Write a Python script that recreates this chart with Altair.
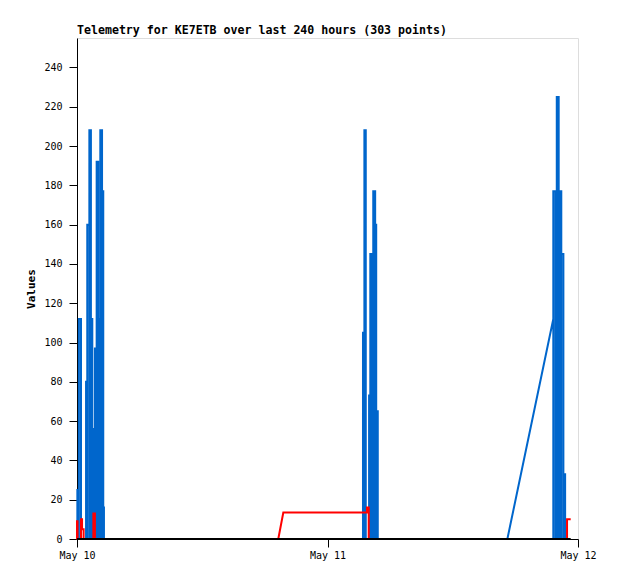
import altair as alt
import pandas as pd

# ---- data (minutes after May 10 00:00) ----
# blue channel: spikes as (start minute, end minute, value)
blue_start = [2, 11, 52, 59, 71, 80, 88, 103, 113, 122, 128, 134, 144, 151,
              1644, 1652, 1679, 1686, 1694, 1703, 1714, 1720,
              2738, 2750, 2758, 2769, 2777, 2784, 2796]
blue_end = [11, 23, 59, 71, 80, 88, 94, 113, 122, 128, 134, 144, 151, 155,
            1652, 1660, 1686, 1694, 1703, 1714, 1720, 1729,
            2750, 2758, 2769, 2777, 2784, 2796, 2806]
blue_value = [25, 112, 80, 160, 208, 112, 56, 97, 192, 97, 112, 208, 177, 16,
              105, 208, 73, 145, 65, 177, 160, 65,
              177, 80, 225, 97, 177, 145, 33]
# blue ramp between the middle and right clusters
ramp_min = [2474, 2738]
ramp_val = [0, 112]

# red channel
red_min = [0, 0, 3, 3, 23, 23, 29, 29, 38, 38, 94, 94, 103, 103,
           1157, 1186, 1667, 1667, 1677, 1677, 2817, 2817, 2838]
red_val = [0, 9, 9, 0, 0, 10, 10, 5, 5, 0, 0, 13, 13, 0,
           0, 13.5, 13.5, 16, 16, 0, 0, 10, 10]

# black channel (all zero)
black_min = [0, 2838]
black_val = [0, 0]

y_ticks = list(range(0, 241, 20))

base = pd.Timestamp("2024-05-10 00:00")


def to_df(mins, vals):
    return pd.DataFrame({
        "t": [base + pd.Timedelta(minutes=m) for m in mins],
        "v": vals,
        "i": list(range(len(mins))),
    })


b_mins, b_vals = [0], [0]
for s, e, v in zip(blue_start, blue_end, blue_value):
    if s == ramp_min[1]:
        b_mins += ramp_min
        b_vals += ramp_val
    b_mins += [s, s, e, e]
    b_vals += [0, v, v, 0]

blue_df = to_df(b_mins, b_vals)
red_df = to_df(red_min, red_val)
black_df = to_df(black_min, black_val)

FONT = "DejaVu Sans Mono"

x_enc = alt.X(
    "t:T",
    title=None,
    scale=alt.Scale(domain=[alt.DateTime(year=2024, month=5, date=10),
                            alt.DateTime(year=2024, month=5, date=12)]),
    axis=alt.Axis(
        values=[alt.DateTime(year=2024, month=5, date=d) for d in (10, 11, 12)],
        format="%b %d", grid=False, tickSize=8, labelPadding=3,
        labelFont=FONT, labelFontSize=10, labelColor="black",
        domainColor="black", tickColor="black", labelFlush=False,
    ),
)
y_enc = alt.Y(
    "v:Q",
    title="Values",
    scale=alt.Scale(domain=[0, 255], nice=False),
    axis=alt.Axis(
        values=y_ticks, grid=False, tickSize=8, labelPadding=7,
        labelFont=FONT, labelFontSize=10, labelColor="black",
        domainColor="black", tickColor="black",
        titleFont=FONT, titleFontSize=11, titleFontWeight="bold",
        titleColor="black", titleX=-46, titleBaseline="middle",
    ),
)

blue = alt.Chart(blue_df).mark_line(color="#0066CC", strokeWidth=2).encode(
    x=x_enc, y=y_enc, order="i:Q")
red = alt.Chart(red_df).mark_line(color="#FF0000", strokeWidth=2).encode(
    x=x_enc, y=y_enc, order="i:Q")
black = alt.Chart(black_df).mark_line(color="black", strokeWidth=2).encode(
    x=x_enc, y=y_enc, order="i:Q")

chart = alt.layer(blue, red, black).properties(
    width=501, height=501,
    title=alt.TitleParams(
        "Telemetry for KE7ETB over last 240 hours (303 points)",
        anchor="start", frame="group", font=FONT, fontSize=11.6,
        fontWeight="bold", color="black", offset=1,
    ),
    autosize=alt.AutoSizeParams(type="none"),
    padding={"left": 69, "top": 30, "right": 30, "bottom": 30},
).configure_view(stroke="#555555", strokeWidth=1).configure(background="white")

chart.save("out.html", embed_options={"renderer": "svg", "actions": False})
